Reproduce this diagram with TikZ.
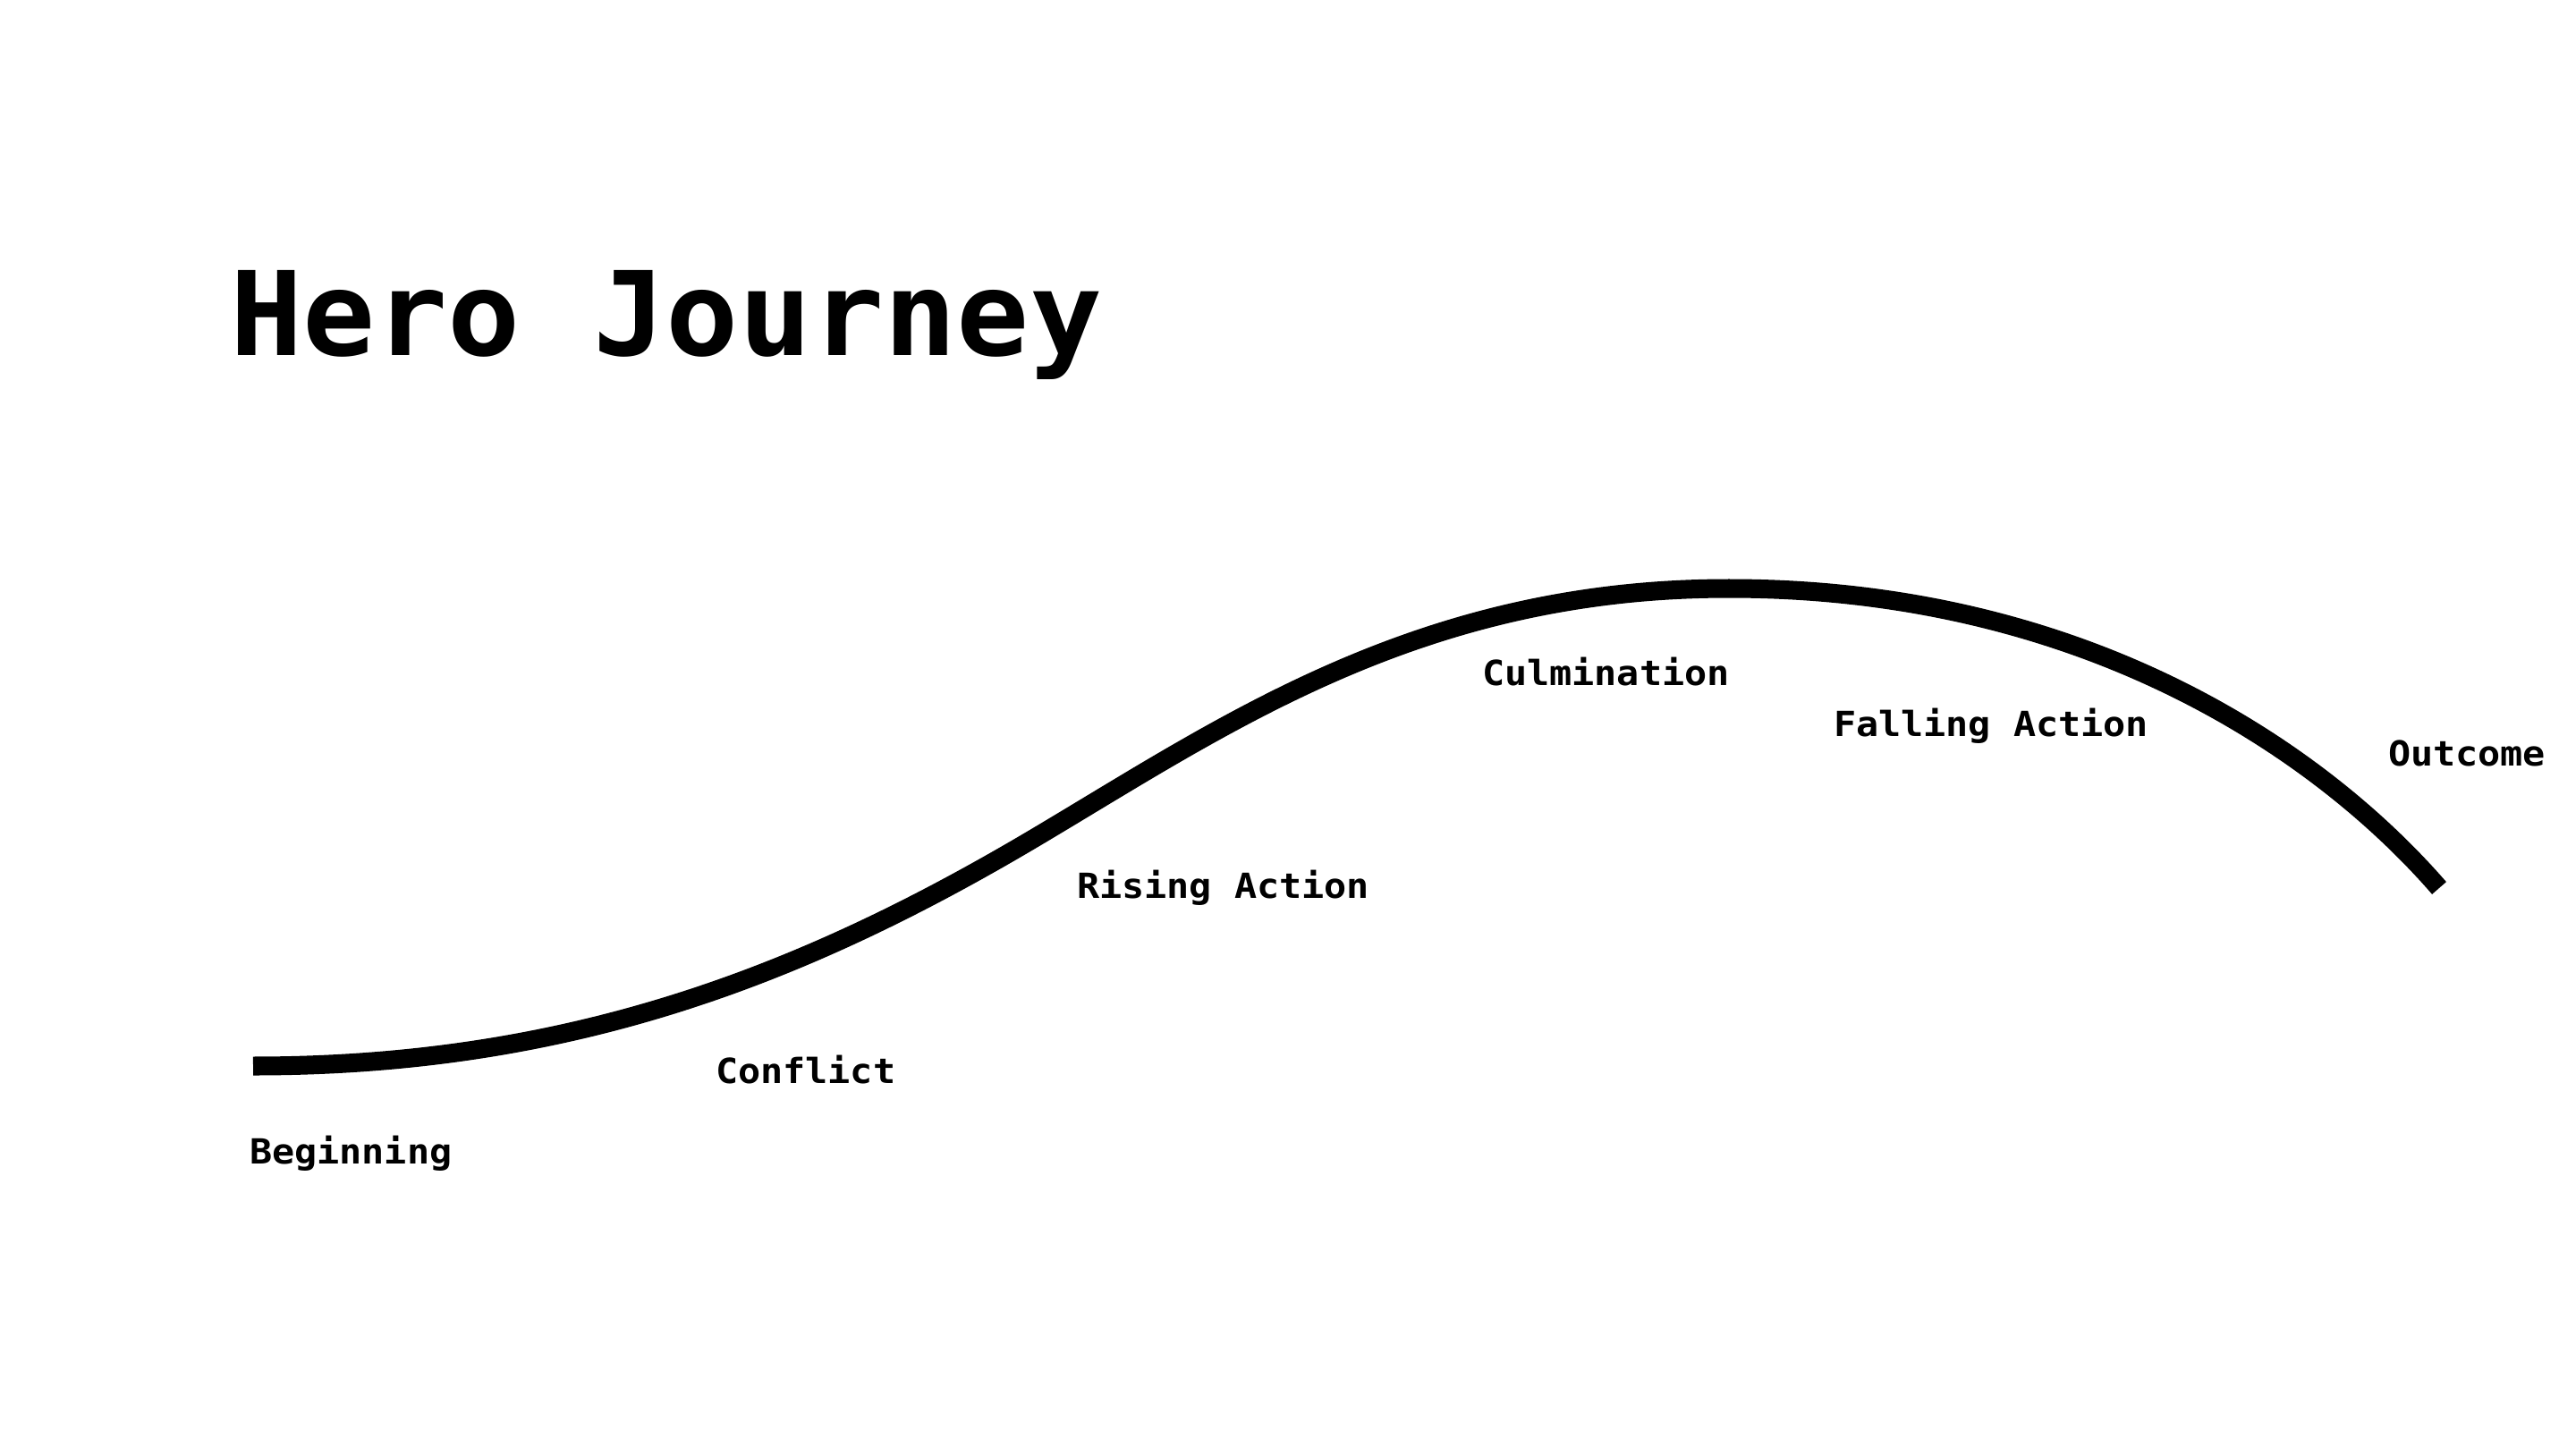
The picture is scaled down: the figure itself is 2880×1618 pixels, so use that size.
\documentclass[tikz,border=0pt]{standalone}
\usepackage{fontspec}
\newfontfamily\titlefont[FakeStretch=1.035]{DejaVu Sans Mono}
\newfontfamily\lblfont[FakeStretch=1.08]{DejaVu Sans Mono}
\begin{document}
\begin{tikzpicture}[x=0.01cm,y=-0.01cm,
  title/.style={anchor=base west,inner sep=0pt,outer sep=0pt,
    font=\titlefont\bfseries\fontsize{37.1pt}{40pt}\selectfont},
  lbl/.style={anchor=base west,inner sep=0pt,outer sep=0pt,
    font=\lblfont\bfseries\fontsize{11pt}{13pt}\selectfont},
  arc line/.style={line width=2.1mm,black,line cap=butt}]
\fill[white] (0,0) rectangle (2880,1618);
\useasboundingbox (0,0) rectangle (2880,1618);

\node[title] (title) at (257,397) {Hero Journey};

\coordinate (start) at (283,1192);
\coordinate (mid) at (1150,941);
\coordinate (peak) at (1933,658);
\coordinate (finish) at (2727,993);
\draw[arc line] (start) .. controls (633,1192) and (892,1093) .. (mid)
  .. controls (1365,814) and (1583,658) .. (peak)
  .. controls (2333,658) and (2596,842) .. (finish);

\node[lbl] (beginning) at (279,1301) {Beginning};
\node[lbl] (conflict) at (800,1211) {Conflict};
\node[lbl] (rising) at (1204,1004) {Rising Action};
\node[lbl] (culmination) at (1657,766) {Culmination};
\node[lbl] (falling) at (2050,823) {Falling Action};
\node[lbl] (outcome) at (2670,856) {Outcome};
\end{tikzpicture}
\end{document}
